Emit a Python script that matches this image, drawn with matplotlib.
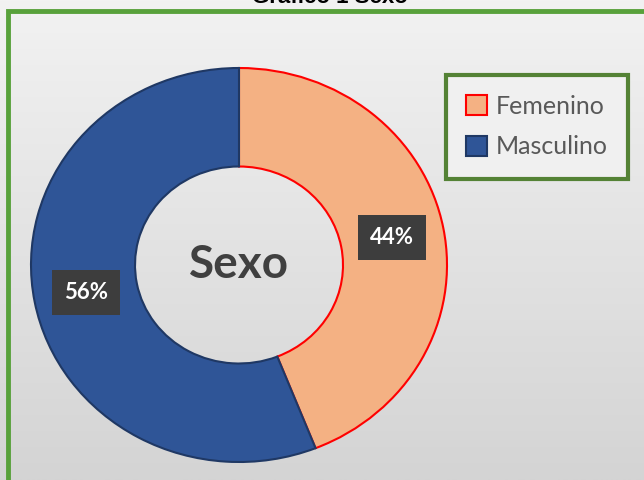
import numpy as np
import matplotlib
matplotlib.use("Agg")
import matplotlib.pyplot as plt
from matplotlib.patches import Rectangle

# data
labels = ["Femenino", "Masculino"]
values = [44, 56]
fill_colors = ["#F4B183", "#2F5597"]
edge_colors = ["#FF0000", "#1F3864"]
center_text = "Sexo"
title = "Gráfico 1 Sexo"

plt.rcParams["font.family"] = ["Lato", "DejaVu Sans"]

fig = plt.figure(figsize=(6.44, 4.80), dpi=100)

# background gradient (light at top, grey at bottom)
bg = fig.add_axes([0, 0, 1, 1], zorder=0)
grad = np.linspace(0, 1, 256).reshape(-1, 1)
bg.imshow(grad, aspect="auto", cmap=matplotlib.colors.LinearSegmentedColormap.from_list(
    "bg", ["#f2f2f2", "#d4d4d4"]), extent=[0, 1, 0, 1], origin="upper")
bg.set_xlim(0, 1)
bg.set_ylim(0, 1)
bg.axis("off")

# green frame (goes off the right and bottom edges)
fig.patches.append(Rectangle((8 / 644, -0.05), 1.2, 1 - 11.5 / 480 + 0.05,
                             transform=fig.transFigure, fill=False,
                             edgecolor="#58A13B", linewidth=3.5, zorder=1))

# title, mostly cut off at the top
fig.text(330 / 644, 1 - 8 / 480, title, ha="center", va="bottom",
         fontsize=16, fontweight="bold", family="Liberation Sans", color="black")

ax = fig.add_axes([31 / 644, 18 / 480, 416 / 644, 394 / 480], zorder=2)
wedges, texts, autotexts = ax.pie(
    values, labels=None, colors=fill_colors, startangle=90, counterclock=False,
    autopct="%1.0f%%", pctdistance=0.75,
    wedgeprops=dict(width=0.5, linewidth=1.5))
for w, ec in zip(wedges, edge_colors):
    w.set_edgecolor(ec)
for t in autotexts:
    t.set_color("white")
    t.set_fontsize(16)
    t.set_fontweight("bold")
    t.set_bbox(dict(boxstyle="square,pad=0.55", facecolor="#3d3d3d",
                    edgecolor="none"))
ax.set_aspect("auto")
ax.set_xlim(-1, 1)
ax.set_ylim(-1, 1)

ax.text(0, 0, center_text, ha="center", va="center", fontsize=33,
        fontweight="bold", color="#404040")

leg = ax.legend(wedges, labels, loc="upper right",
                bbox_to_anchor=(628 / 644, 1 - 75 / 480),
                bbox_transform=fig.transFigure, fontsize=18,
                labelcolor="#595959", handlelength=0.85, handleheight=0.85,
                handletextpad=0.35, labelspacing=0.7, borderpad=0.8,
                fancybox=False, framealpha=1, facecolor="#f0f0f0",
                edgecolor="#548235", borderaxespad=0)
leg.get_frame().set_linewidth(3)

fig.savefig("out.png", dpi=100)
